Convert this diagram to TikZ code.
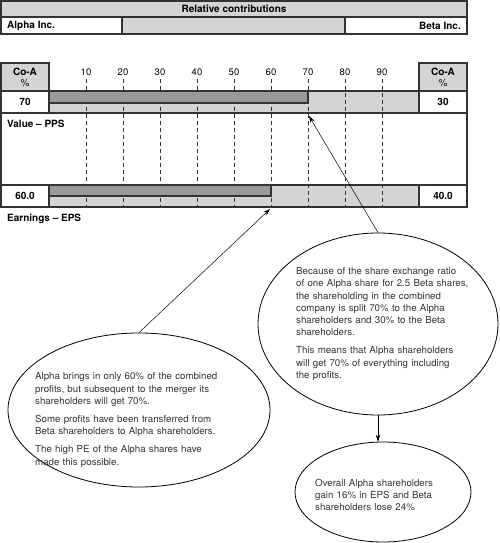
\documentclass[tikz,border=0pt]{standalone}
\usepackage{fontspec}
\setmainfont{TeX Gyre Heros}
\usetikzlibrary{arrows.meta,shapes.geometric}
\definecolor{lightbar}{HTML}{D4D4D4}
\definecolor{darkbar}{HTML}{9A9A9A}
\definecolor{framegrey}{HTML}{333333}
\tikzset{
	box/.style={draw=framegrey, line width=1.2pt},
	cell/.style={box, minimum width=48pt, minimum height=22pt, inner sep=0pt, font=\bfseries, align=center},
	lab/.style={inner sep=0pt, font=\bfseries},
	tickline/.style={framegrey, line width=0.5pt, dash pattern=on 4pt off 3pt},
	note/.style={draw, ellipse, line width=0.8pt, inner sep=0pt},
	notetext/.style={text width=#1, align=left, inner sep=0pt, anchor=west, text=framegrey,
		font=\fontsize{9.7}{12.2}\selectfont},
	pointer/.style={-{Stealth[length=7pt,width=4.5pt]}, line width=0.5pt}
}
\begin{document}
\begin{tikzpicture}[x=1pt, y=-1pt, font=\fontsize{9.5}{11.7}\selectfont]
		\useasboundingbox (0,0) rectangle (500,543);
		% header
		\draw[box, fill=lightbar] (1,1) rectangle (467,17);
		\draw[box, fill=lightbar] (1,17) rectangle (467,34);
		\draw[box, fill=white] (1,17) rectangle (122,34);
		\draw[box, fill=white] (345,17) rectangle (467,34);
		\node[lab] (title) at (234,9) {Relative contributions};
		\node[lab, anchor=west] (alpha) at (7,25.5) {Alpha Inc.};
		\node[lab, anchor=east] (beta) at (461,25.5) {Beta Inc.};
		
		% bars and scale
		\draw[box] (1,113) -- (1,185);
		\draw[box] (467,113) -- (467,185);
		\draw[box, fill=lightbar] (49,91) rectangle (419,113);
		\draw[box, fill=lightbar] (49,185) rectangle (419,207);
		\foreach \p in {10,20,...,90} {
			\node (tick\p) at (49+3.7*\p, 72) {\p};
			\draw[tickline] (tick\p.south) -- (49+3.7*\p, 207);
		}
		\draw[box, fill=darkbar] (49,91) rectangle (308,103);
		\draw[box, fill=darkbar] (49,185) rectangle (271,196);
		
		\node[cell, fill=lightbar, minimum height=28pt] (coaleft) at (25,77) {Co-A\\[-1pt]{\normalfont\%}};
		\node[cell, fill=lightbar, minimum height=28pt] (coaright) at (443,77) {Co-A\\[-1pt]{\normalfont\%}};
		\node[cell, fill=white] (valueleft) at (25,102) {70};
		\node[cell, fill=white] (valueright) at (443,102) {30};
		\node[cell, fill=white] (epsleft) at (25,196) {60.0};
		\node[cell, fill=white] (epsright) at (443,196) {40.0};
		\node[lab, anchor=west] (valuelab) at (7,124) {Value -- PPS};
		\node[lab, anchor=west] (epslab) at (7,219) {Earnings -- EPS};
		\coordinate (valueend) at (309,116);
		\coordinate (epsend) at (270,209);
		
		% notes
		\node[note, minimum width=262pt, minimum height=154pt] (alphanote) at (139,410) {};
		\node[notetext=210pt] (alphatext) at (35,420) {Alpha brings in only 60\% of the combined\\
			profits, but subsequent to the merger its\\
			shareholders will get 70\%.\\[6pt]
			Some profits have been transferred from\\
			Beta shareholders to Alpha shareholders.\\[6pt]
			The high PE of the Alpha shares have\\
			made this possible.};
		\node[note, minimum width=240pt, minimum height=182pt] (betanote) at (378,324) {};
		\node[notetext=190pt] (betatext) at (296,324) {Because of the share exchange ratio\\
			of one Alpha share for 2.5 Beta shares,\\
			the shareholding in the combined\\
			company is split 70\% to the Alpha\\
			shareholders and 30\% to the Beta\\
			shareholders.\\[6pt]
			This means that Alpha shareholders\\
			will get 70\% of everything including\\
			the profits.};
		\node[note, minimum width=176pt, minimum height=100pt] (gainnote) at (383,492) {};
		\node[notetext=130pt] (gaintext) at (315,495) {Overall Alpha shareholders\\
			gain 16\% in EPS and Beta\\
			shareholders lose 24\%};
		
		\draw[pointer] (alphanote.north) -- (epsend);
		\draw[pointer] (betanote.north) -- (valueend);
		\draw[pointer] (betanote.south) -- (betanote.south |- gainnote.north);
	\end{tikzpicture}
\end{document}
